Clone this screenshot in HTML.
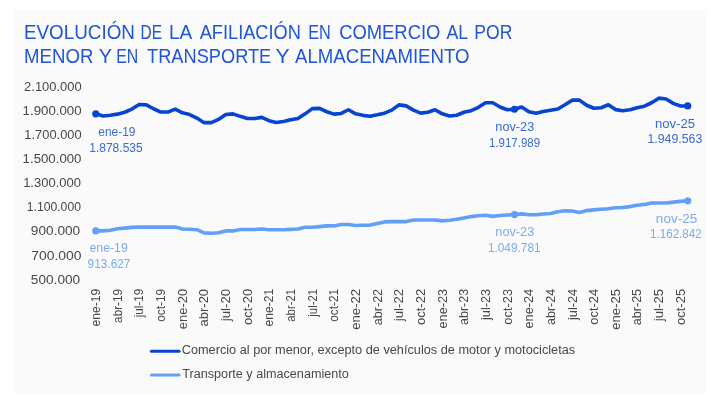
<!DOCTYPE html>
<html><head><meta charset="utf-8">
<style>
html,body{margin:0;padding:0;width:720px;height:408px;background:#ffffff;overflow:hidden}
svg{display:block;font-family:"Liberation Sans",sans-serif;will-change:transform}
</style></head><body>
<svg width="720" height="408" viewBox="0 0 720 408">
<rect x="14" y="10" width="693" height="383" fill="#fafafa"/>
<g fill="#1f55d6" font-size="20px">
<text x="23.96" y="38.9" textLength="111.02" lengthAdjust="spacingAndGlyphs">EVOLUCIÓN</text><text x="140.58" y="38.9" textLength="21.41" lengthAdjust="spacingAndGlyphs">DE</text><text x="169.02" y="38.9" textLength="23.31" lengthAdjust="spacingAndGlyphs">LA</text><text x="199.67" y="38.9" textLength="101.28" lengthAdjust="spacingAndGlyphs">AFILIACIÓN</text><text x="308.14" y="38.9" textLength="22.65" lengthAdjust="spacingAndGlyphs">EN</text><text x="339.19" y="38.9" textLength="101.15" lengthAdjust="spacingAndGlyphs">COMERCIO</text><text x="446.38" y="38.9" textLength="21.6" lengthAdjust="spacingAndGlyphs">AL</text><text x="474.31" y="38.9" textLength="38.03" lengthAdjust="spacingAndGlyphs">POR</text><text x="23.99" y="62.6" textLength="69.47" lengthAdjust="spacingAndGlyphs">MENOR</text><text x="98.69" y="62.6" textLength="13.29" lengthAdjust="spacingAndGlyphs">Y</text><text x="116.17" y="62.6" textLength="22.04" lengthAdjust="spacingAndGlyphs">EN</text><text x="147.03" y="62.6" textLength="124.25" lengthAdjust="spacingAndGlyphs">TRANSPORTE</text><text x="275.42" y="62.6" textLength="14.15" lengthAdjust="spacingAndGlyphs">Y</text><text x="295.05" y="62.6" textLength="174.44" lengthAdjust="spacingAndGlyphs">ALMACENAMIENTO</text>
</g>
<g fill="#484848" font-size="12.5px">
<text x="24.12" y="91.00" textLength="57.5" lengthAdjust="spacingAndGlyphs">2.100.000</text>
<text x="22.59" y="115.08" textLength="59.01" lengthAdjust="spacingAndGlyphs">1.900.000</text>
<text x="24.39" y="139.15" textLength="57.25" lengthAdjust="spacingAndGlyphs">1.700.000</text>
<text x="22.6" y="163.22" textLength="58.86" lengthAdjust="spacingAndGlyphs">1.500.000</text>
<text x="23.15" y="187.30" textLength="57.82" lengthAdjust="spacingAndGlyphs">1.300.000</text>
<text x="26.73" y="211.38" textLength="54.22" lengthAdjust="spacingAndGlyphs">1.100.000</text>
<text x="30.88" y="235.45" textLength="49.31" lengthAdjust="spacingAndGlyphs">900.000</text>
<text x="31.26" y="259.52" textLength="50.21" lengthAdjust="spacingAndGlyphs">700.000</text>
<text x="30.84" y="283.60" textLength="49.35" lengthAdjust="spacingAndGlyphs">500.000</text>
</g>
<g fill="#484848" font-size="12px" text-anchor="end">
<text transform="translate(100.10,288.9) rotate(-90)" textLength="37.60" lengthAdjust="spacingAndGlyphs">ene-19</text>
<text transform="translate(121.75,288.9) rotate(-90)" textLength="34.00" lengthAdjust="spacingAndGlyphs">abr-19</text>
<text transform="translate(143.41,288.9) rotate(-90)" textLength="28.30" lengthAdjust="spacingAndGlyphs">jul-19</text>
<text transform="translate(165.06,288.9) rotate(-90)" textLength="32.80" lengthAdjust="spacingAndGlyphs">oct-19</text>
<text transform="translate(186.72,288.9) rotate(-90)" textLength="40.30" lengthAdjust="spacingAndGlyphs">ene-20</text>
<text transform="translate(208.37,288.9) rotate(-90)" textLength="37.60" lengthAdjust="spacingAndGlyphs">abr-20</text>
<text transform="translate(230.03,288.9) rotate(-90)" textLength="32.30" lengthAdjust="spacingAndGlyphs">jul-20</text>
<text transform="translate(251.68,288.9) rotate(-90)" textLength="36.00" lengthAdjust="spacingAndGlyphs">oct-20</text>
<text transform="translate(273.34,288.9) rotate(-90)" textLength="37.60" lengthAdjust="spacingAndGlyphs">ene-21</text>
<text transform="translate(294.99,288.9) rotate(-90)" textLength="32.80" lengthAdjust="spacingAndGlyphs">abr-21</text>
<text transform="translate(316.65,288.9) rotate(-90)" textLength="27.80" lengthAdjust="spacingAndGlyphs">jul-21</text>
<text transform="translate(338.30,288.9) rotate(-90)" textLength="32.80" lengthAdjust="spacingAndGlyphs">oct-21</text>
<text transform="translate(359.96,288.9) rotate(-90)" textLength="40.80" lengthAdjust="spacingAndGlyphs">ene-22</text>
<text transform="translate(381.61,288.9) rotate(-90)" textLength="36.30" lengthAdjust="spacingAndGlyphs">abr-22</text>
<text transform="translate(403.27,288.9) rotate(-90)" textLength="32.30" lengthAdjust="spacingAndGlyphs">jul-22</text>
<text transform="translate(424.92,288.9) rotate(-90)" textLength="36.00" lengthAdjust="spacingAndGlyphs">oct-22</text>
<text transform="translate(446.58,288.9) rotate(-90)" textLength="39.60" lengthAdjust="spacingAndGlyphs">ene-23</text>
<text transform="translate(468.23,288.9) rotate(-90)" textLength="36.00" lengthAdjust="spacingAndGlyphs">abr-23</text>
<text transform="translate(489.89,288.9) rotate(-90)" textLength="31.10" lengthAdjust="spacingAndGlyphs">jul-23</text>
<text transform="translate(511.54,288.9) rotate(-90)" textLength="35.80" lengthAdjust="spacingAndGlyphs">oct-23</text>
<text transform="translate(533.20,288.9) rotate(-90)" textLength="39.60" lengthAdjust="spacingAndGlyphs">ene-24</text>
<text transform="translate(554.85,288.9) rotate(-90)" textLength="36.00" lengthAdjust="spacingAndGlyphs">abr-24</text>
<text transform="translate(576.51,288.9) rotate(-90)" textLength="31.10" lengthAdjust="spacingAndGlyphs">jul-24</text>
<text transform="translate(598.16,288.9) rotate(-90)" textLength="35.80" lengthAdjust="spacingAndGlyphs">oct-24</text>
<text transform="translate(619.82,288.9) rotate(-90)" textLength="40.80" lengthAdjust="spacingAndGlyphs">ene-25</text>
<text transform="translate(641.47,288.9) rotate(-90)" textLength="36.30" lengthAdjust="spacingAndGlyphs">abr-25</text>
<text transform="translate(663.13,288.9) rotate(-90)" textLength="32.30" lengthAdjust="spacingAndGlyphs">jul-25</text>
<text transform="translate(684.78,288.9) rotate(-90)" textLength="36.00" lengthAdjust="spacingAndGlyphs">oct-25</text>
</g>
<path d="M95.80,230.90 L103.02,230.90 L110.24,230.20 L117.45,228.80 L124.67,228.10 L131.89,227.40 L139.11,227.10 L146.33,227.10 L153.55,227.10 L160.76,227.10 L167.98,227.10 L175.20,227.10 L182.42,229.00 L189.64,229.20 L196.86,229.70 L204.07,232.90 L211.29,233.20 L218.51,232.70 L225.73,230.90 L232.95,230.90 L240.17,229.50 L247.38,229.50 L254.60,229.50 L261.82,229.05 L269.04,229.70 L276.26,229.70 L283.48,229.70 L290.69,229.40 L297.91,229.00 L305.13,227.30 L312.35,227.30 L319.57,226.60 L326.79,225.90 L334.00,225.90 L341.22,224.55 L348.44,224.55 L355.66,225.50 L362.88,225.30 L370.10,225.10 L377.31,223.40 L384.53,221.90 L391.75,221.60 L398.97,221.60 L406.19,221.60 L413.40,220.00 L420.62,220.00 L427.84,220.00 L435.06,220.00 L442.28,220.90 L449.50,220.20 L456.71,219.30 L463.93,218.00 L471.15,216.60 L478.37,215.70 L485.59,215.20 L492.81,216.40 L500.02,215.50 L507.24,215.00 L514.46,214.55 L521.68,213.90 L528.90,214.80 L536.12,214.80 L543.33,214.00 L550.55,213.50 L557.77,211.70 L564.99,210.70 L572.21,211.00 L579.43,212.40 L586.64,210.60 L593.86,209.90 L601.08,209.20 L608.30,208.70 L615.52,207.80 L622.74,207.50 L629.95,206.60 L637.17,205.30 L644.39,204.40 L651.61,203.00 L658.83,203.00 L666.05,203.00 L673.26,202.10 L680.48,201.40 L687.70,200.80" fill="none" stroke="#62a0f8" stroke-width="3.6" stroke-linejoin="round" stroke-linecap="round"/>
<path d="M95.80,113.85 L103.02,115.95 L110.24,115.25 L117.45,114.15 L124.67,112.25 L131.89,109.05 L139.11,104.55 L146.33,104.85 L153.55,108.75 L160.76,112.05 L167.98,112.05 L175.20,109.05 L182.42,112.85 L189.64,114.55 L196.86,118.05 L204.07,122.65 L211.29,122.65 L218.51,119.45 L225.73,114.55 L232.95,113.85 L240.17,116.35 L247.38,118.45 L254.60,118.45 L261.82,117.35 L269.04,120.65 L276.26,122.55 L283.48,121.55 L290.69,119.85 L297.91,118.45 L305.13,113.85 L312.35,108.60 L319.57,108.35 L326.79,111.75 L334.00,114.15 L341.22,113.45 L348.44,109.75 L355.66,113.85 L362.88,115.35 L370.10,116.25 L377.31,114.85 L384.53,113.15 L391.75,110.15 L398.97,104.85 L406.19,105.85 L413.40,110.15 L420.62,113.15 L427.84,112.25 L435.06,109.75 L442.28,113.85 L449.50,115.95 L456.71,115.25 L463.93,112.25 L471.15,110.65 L478.37,107.35 L485.59,102.75 L492.81,102.75 L500.02,106.95 L507.24,109.75 L514.46,109.25 L521.68,106.95 L528.90,111.75 L536.12,113.15 L543.33,111.60 L550.55,110.25 L557.77,108.95 L564.99,104.75 L572.21,100.15 L579.43,100.15 L586.64,105.25 L593.86,108.25 L601.08,107.75 L608.30,104.75 L615.52,109.60 L622.74,110.75 L629.95,109.75 L637.17,107.75 L644.39,106.15 L651.61,102.75 L658.83,98.15 L666.05,98.95 L673.26,103.35 L680.48,105.95 L687.70,105.95" fill="none" stroke="#0745d0" stroke-width="3.6" stroke-linejoin="round" stroke-linecap="round"/>
<circle cx="95.80" cy="113.85" r="3.6" fill="#0745d0"/>
<circle cx="514.46" cy="109.25" r="3.6" fill="#0745d0"/>
<circle cx="687.70" cy="105.95" r="3.6" fill="#0745d0"/>
<circle cx="95.80" cy="230.90" r="3.6" fill="#62a0f8"/>
<circle cx="514.46" cy="214.55" r="3.6" fill="#62a0f8"/>
<circle cx="687.70" cy="200.80" r="3.6" fill="#62a0f8"/>
<g fill="#3a6bd4" font-size="12.5px">
<text x="98.25" y="136.2" textLength="37.18" lengthAdjust="spacingAndGlyphs">ene-19</text>
<text x="89.21" y="151.8" textLength="53.49" lengthAdjust="spacingAndGlyphs">1.878.535</text>
<text x="495.32" y="130.6" textLength="38.96" lengthAdjust="spacingAndGlyphs">nov-23</text>
<text x="489.04" y="146.7" textLength="51.07" lengthAdjust="spacingAndGlyphs">1.917.989</text>
<text x="654.93" y="127.8" textLength="40.2" lengthAdjust="spacingAndGlyphs">nov-25</text>
<text x="647.38" y="143.3" textLength="54.9" lengthAdjust="spacingAndGlyphs">1.949.563</text>
</g>
<g fill="#7aaaf0" font-size="12.5px">
<text x="89.54" y="252.2" textLength="38.2" lengthAdjust="spacingAndGlyphs">ene-19</text>
<text x="87.57" y="267.8" textLength="42.86" lengthAdjust="spacingAndGlyphs">913.627</text>
<text x="495.32" y="236.4" textLength="38.96" lengthAdjust="spacingAndGlyphs">nov-23</text>
<text x="487.9" y="252" textLength="52.75" lengthAdjust="spacingAndGlyphs">1.049.781</text>
<text x="655.88" y="222.8" textLength="41.29" lengthAdjust="spacingAndGlyphs">nov-25</text>
<text x="650.05" y="238.1" textLength="51.65" lengthAdjust="spacingAndGlyphs">1.162.842</text>
</g>
<line x1="151.5" y1="351.25" x2="179" y2="351.25" stroke="#0745d0" stroke-width="3.2" stroke-linecap="round"/>
<line x1="151.5" y1="375" x2="179" y2="375" stroke="#62a0f8" stroke-width="3.2" stroke-linecap="round"/>
<g fill="#484848" font-size="12.5px">
<text x="181.7" y="353.75" textLength="393.5" lengthAdjust="spacingAndGlyphs">Comercio al por menor, excepto de vehículos de motor y motocicletas</text>
<text x="182.3" y="377.5" textLength="166.5" lengthAdjust="spacingAndGlyphs">Transporte y almacenamiento</text>
</g>
</svg>
</body></html>
